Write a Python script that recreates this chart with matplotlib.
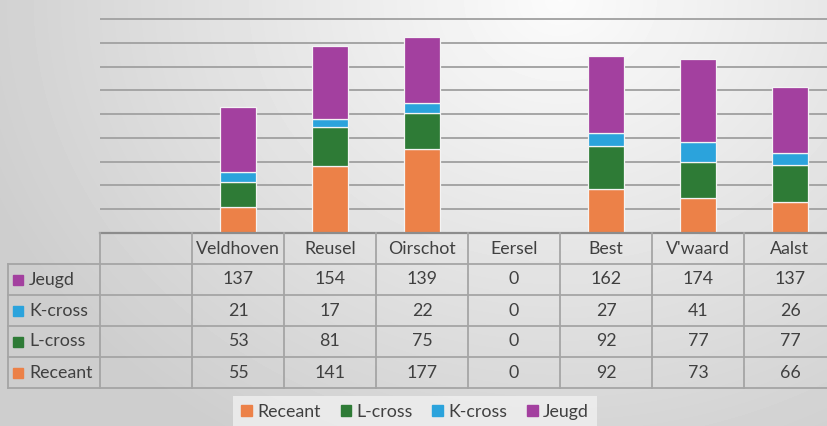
import numpy as np
import matplotlib.pyplot as plt

categories = ["", "Veldhoven", "Reusel", "Oirschot", "Eersel", "Best", "V'waard", "Aalst"]
receant = [np.nan, 55, 141, 177, 0, 92, 73, 66]
l_cross = [np.nan, 53, 81, 75, 0, 92, 77, 77]
k_cross = [np.nan, 21, 17, 22, 0, 27, 41, 26]
jeugd = [np.nan, 137, 154, 139, 0, 162, 174, 137]

series = ["Receant", "L-cross", "K-cross", "Jeugd"]
values = [receant, l_cross, k_cross, jeugd]
colors = ["#EC8148", "#2E7B36", "#2BA3DC", "#A3409F"]

plt.rcParams["font.family"] = ["Lato", "DejaVu Sans"]
txt_color = "#404040"
line_color = "#a5a5a5"

W, H = 827, 426
fig = plt.figure(figsize=(W / 100, H / 100), dpi=100)

# background gradient
bg = fig.add_axes([0, 0, 1, 1], zorder=-5)
yy, xx = np.mgrid[0:H, 0:W]
r = np.sqrt(((xx - 560) / 620.0) ** 2 + ((yy - 0) / 520.0) ** 2)
r = np.clip(r, 0, 1)
img = 0.985 - 0.18 * r
bg.imshow(img, cmap="gray", vmin=0, vmax=1, aspect="auto", extent=[0, W, H, 0])
bg.axis("off")

# chart axes (right part is cropped off the picture, like the reference)
left = 100 / W
col_w = 92 / W
ncols = len(categories)
base_y = 233
ax = fig.add_axes([left, (H - base_y) / H, col_w * ncols, base_y / H])
ax.patch.set_alpha(0)
x = np.arange(ncols)
bottom = np.zeros(ncols)
for name, vals, c in zip(series, values, colors):
    v = np.nan_to_num(np.array(vals, dtype=float))
    ax.bar(x, v, 0.39, bottom=bottom, color=c, edgecolor="#f4f4f4", linewidth=0.9, zorder=3)
    bottom += v
ax.set_xlim(-0.5, ncols - 0.5)
ax.set_ylim(0, 490)
ax.set_yticks(np.arange(50, 451, 50))
ax.yaxis.grid(True, color=line_color, linewidth=1.4, zorder=0)
ax.tick_params(left=False, bottom=False, labelleft=False, labelbottom=False)
for s in ax.spines.values():
    s.set_visible(False)

# data table
row_h = 31
tab_rows = 5
tax = fig.add_axes([left, (H - base_y - row_h * tab_rows) / H, col_w * ncols, row_h * tab_rows / H])
tax.patch.set_alpha(0)
tax.set_xlim(-0.5, ncols - 0.5)
tax.set_ylim(tab_rows, 0)
tax.axis("off")

fs = 12.8
lw = 1.3
right_x = ncols - 0.5
# header row
tax.plot([-0.5, right_x], [0, 0], color="#8c8c8c", lw=1.6, clip_on=False)
for i, cat in enumerate(categories):
    tax.text(i, 0.5, cat, ha="center", va="center", fontsize=fs, color=txt_color)
# rows
table_series = list(zip(series, values, colors))[::-1]
for k in range(1, tab_rows + 1):
    tax.plot([-1.5, right_x], [k, k], color=line_color, lw=lw, clip_on=False)
for i in range(ncols + 1):
    tax.plot([i - 0.5, i - 0.5], [0, tab_rows], color=line_color, lw=lw, clip_on=False)
tax.plot([-1.5, -1.5], [1, tab_rows], color=line_color, lw=lw, clip_on=False)
for r_i, (name, vals, c) in enumerate(table_series):
    yc = r_i + 1.5
    tax.plot([-1.39], [yc], marker="s", markersize=6.5, color=c, clip_on=False, linestyle="none")
    tax.text(-1.27, yc, name, ha="left", va="center", fontsize=fs, color=txt_color, clip_on=False)
    for i, v in enumerate(vals):
        if not np.isnan(v):
            tax.text(i, yc, str(int(v)), ha="center", va="center", fontsize=fs, color=txt_color)

# legend
handles = [plt.Rectangle((0, 0), 1, 1, color=c) for c in colors]
leg = fig.legend(handles, series, loc="lower center", bbox_to_anchor=(0.502, -0.025), ncol=4,
                 frameon=True, fontsize=12.8, handlelength=0.6, handleheight=0.6,
                 handletextpad=0.3, columnspacing=1.1, borderpad=0.45)
leg.get_frame().set_facecolor("#f0f0f0")
leg.get_frame().set_edgecolor("none")
leg.get_frame().set_boxstyle("square", pad=0)
for t in leg.get_texts():
    t.set_color(txt_color)

fig.savefig("out.png", dpi=100)
